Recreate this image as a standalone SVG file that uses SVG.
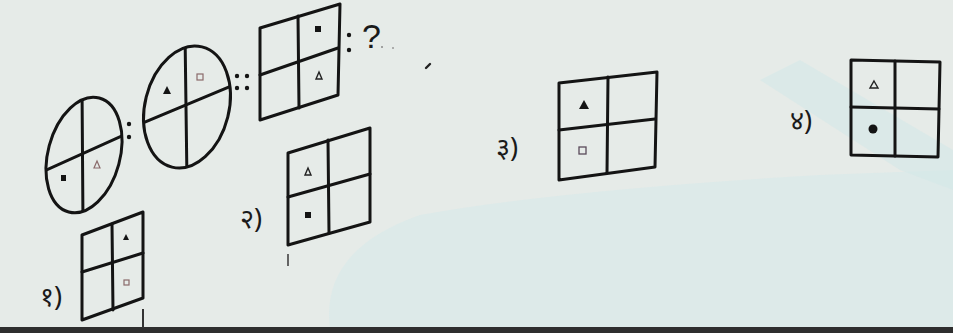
<svg xmlns="http://www.w3.org/2000/svg" width="953" height="333" viewBox="0 0 953 333">
<defs>
<style>
.ln{fill:none;stroke:#141414;stroke-width:3;stroke-linejoin:round;stroke-linecap:round}
.fill{fill:#141414}
.faint{fill:none;stroke:#8a6a6a;stroke-width:1.2}
.thin{fill:none;stroke:#222;stroke-width:1.4}
.lbl{font-family:"Noto Sans","Noto Sans Devanagari","DejaVu Sans",sans-serif;font-size:27px;fill:#1a1a1a}
.q{font-family:"Liberation Sans",sans-serif;font-size:34px;fill:#1a1a1a}
</style>
<clipPath id="c1"><ellipse cx="0" cy="0" rx="36" ry="59"/></clipPath>
<clipPath id="c2"><ellipse cx="0" cy="0" rx="42" ry="62"/></clipPath>
</defs>
<rect width="953" height="333" fill="#e6ebe8"/>
<path d="M330 328 Q320 250 420 215 Q560 190 820 175 L953 170 L953 328 Z" fill="#d9e9ea" opacity="0.7"/>
<path d="M760 80 L900 170 L953 190 L953 150 L800 60 Z" fill="#d4e7e8" opacity="0.6"/>
<rect x="0" y="327" width="953" height="6" fill="#2e2e2e"/>

<g id="figure1">
<g transform="translate(84 155) rotate(15)">
<ellipse cx="0" cy="0" rx="36" ry="59" class="ln"/>
</g>
<g transform="translate(84 155) rotate(15)" clip-path="url(#c1)">
<g transform="rotate(-15)">
<line x1="-2" y1="-70" x2="-1" y2="70" class="ln"/>
<line x1="-80" y1="34" x2="80" y2="-38" class="ln"/>
</g>
</g>
<rect x="61" y="175" width="5" height="6" class="fill"/>
<path d="M97 161 L100 168 L94 168 Z" class="faint"/>
</g>

<g id="colon1">
<circle cx="129" cy="124" r="2.2" class="fill"/>
<circle cx="129" cy="137" r="2.2" class="fill"/>
</g>

<g id="figure2">
<g transform="translate(187 107) rotate(14)">
<ellipse cx="0" cy="0" rx="42" ry="62" class="ln"/>
</g>
<g transform="translate(187 107) rotate(14)" clip-path="url(#c2)">
<g transform="rotate(-14)">
<line x1="-2" y1="-75" x2="0" y2="75" class="ln"/>
<line x1="-90" y1="35" x2="90" y2="-40" class="ln"/>
</g>
</g>
<path d="M167 86 L171 94 L163 94 Z" class="fill"/>
<rect x="197" y="74" width="6" height="6" class="faint"/>
</g>

<g id="doublecolon">
<circle cx="237" cy="76" r="2.2" class="fill"/>
<circle cx="247" cy="76" r="2.2" class="fill"/>
<circle cx="237" cy="88" r="2.2" class="fill"/>
<circle cx="247" cy="88" r="2.2" class="fill"/>
</g>

<g id="figure3">
<path d="M260 28 L340 4 L338 95 L260 120 Z" class="ln"/>
<line x1="298" y1="16" x2="299" y2="108" class="ln"/>
<line x1="260" y1="75" x2="338" y2="48" class="ln"/>
<rect x="315" y="26" width="6" height="6" class="fill"/>
<path d="M319 72 L322 79 L316 79 Z" class="thin"/>
</g>

<g id="question">
<circle cx="349" cy="35" r="2.2" class="fill"/>
<circle cx="349" cy="50" r="2.2" class="fill"/>
<text x="362" y="48" class="q">?</text>
<circle cx="382" cy="47" r="1" fill="#888"/>
<circle cx="393" cy="48" r="1" fill="#999"/>
<path d="M426 68 L430 64" stroke="#222" stroke-width="2.4" stroke-linecap="round"/>
</g>

<g id="option1">
<path d="M82 235 L143 212 L143 298 L82 320 Z" class="ln"/>
<line x1="112" y1="224" x2="113" y2="310" class="ln"/>
<line x1="82" y1="272" x2="143" y2="253" class="ln"/>
<path d="M126 234 L129 240 L123 240 Z" class="fill"/>
<rect x="124" y="280" width="5" height="5" class="faint"/>
<text x="40" y="306" class="lbl">१)</text>
<line x1="143" y1="309" x2="143" y2="328" stroke="#333" stroke-width="2"/>
</g>

<g id="option2">
<path d="M288 153 L370 128 L370 222 L288 245 Z" class="ln"/>
<line x1="328" y1="140" x2="329" y2="233" class="ln"/>
<line x1="288" y1="197" x2="370" y2="174" class="ln"/>
<path d="M308 168 L311 175 L305 175 Z" class="thin"/>
<rect x="305" y="212" width="6" height="6" class="fill"/>
<text x="240" y="228" class="lbl">२)</text>
<line x1="288" y1="254" x2="288" y2="266" stroke="#555" stroke-width="1.8"/>
</g>

<g id="option3">
<path d="M559 83 L657 72 L655 167 L559 180 Z" class="ln"/>
<line x1="608" y1="77" x2="607" y2="173" class="ln"/>
<line x1="559" y1="130" x2="655" y2="119" class="ln"/>
<path d="M584 100 L589 109 L579 109 Z" class="fill"/>
<rect x="579" y="147" width="7" height="7" fill="none" stroke="#5a4a5a" stroke-width="1.3"/>
<text x="496" y="157" class="lbl">३)</text>
</g>

<g id="option4">
<path d="M851 60 L940 62 L938 157 L851 155 Z" class="ln"/>
<line x1="895" y1="61" x2="895" y2="156" class="ln"/>
<line x1="851" y1="107" x2="939" y2="109" class="ln"/>
<path d="M874 81 L878 88 L870 88 Z" class="thin"/>
<circle cx="873" cy="129" r="4.5" class="fill"/>
<text x="790" y="130" class="lbl">४)</text>
</g>
</svg>
